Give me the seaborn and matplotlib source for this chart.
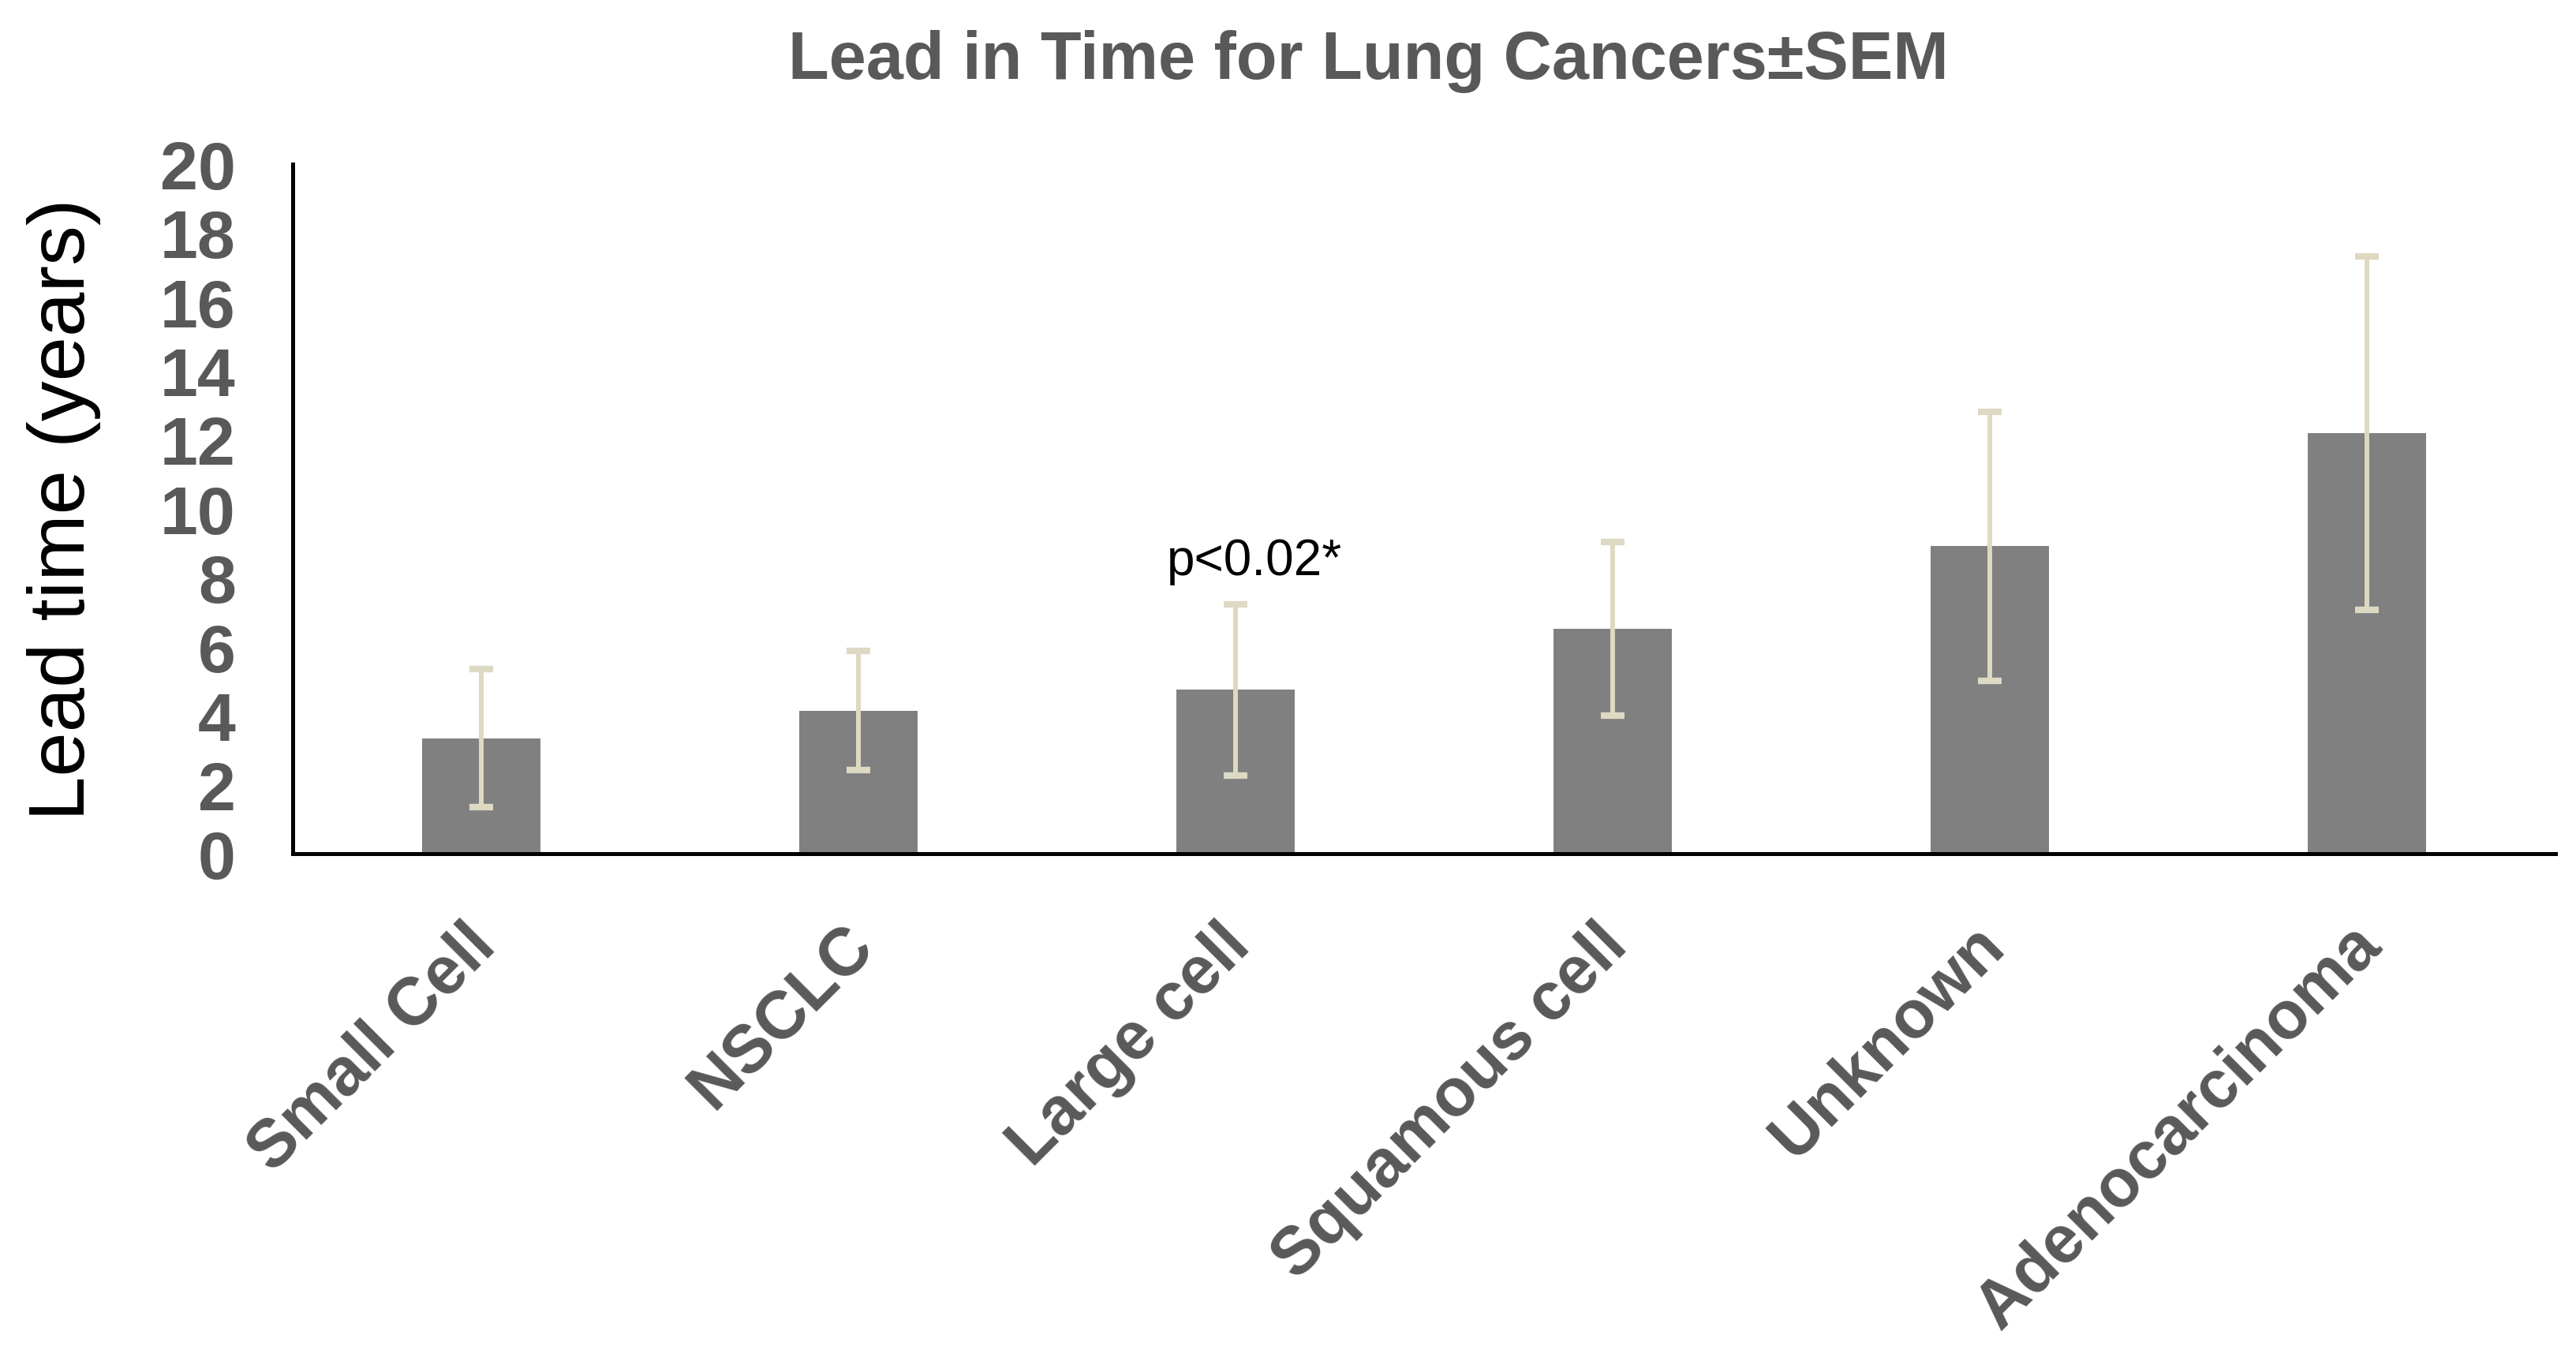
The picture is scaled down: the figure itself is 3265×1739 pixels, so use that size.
import matplotlib
matplotlib.use("Agg")
import matplotlib.pyplot as plt
from matplotlib.transforms import ScaledTranslation
import seaborn as sns

categories = ["Small Cell", "NSCLC", "Large cell", "Squamous cell", "Unknown", "Adenocarcinoma"]
means = [3.35, 4.15, 4.75, 6.52, 8.92, 12.2]
sem = [2.0, 1.73, 2.48, 2.52, 3.9, 5.12]
yticks = list(range(0, 21, 2))
title = "Lead in Time for Lung Cancers\u00b1SEM"
ylabel = "Lead time (years)"
annot_text = "p<0.02*"

sns.set_theme(style="white")
plt.rcParams["font.family"] = ["Liberation Sans", "DejaVu Sans"]

fig = plt.figure(figsize=(32.66, 17.40), dpi=100)
fig.patch.set_facecolor("white")
ax = fig.add_axes([0.1136, 0.3776, 0.878, 0.5024])

sns.barplot(x=categories, y=means, color="#808080", saturation=1, width=0.314,
            errorbar=None, ax=ax, edgecolor="none")
ax.errorbar(range(len(categories)), means, yerr=sem, fmt="none", ecolor="#DDD9C3",
            elinewidth=4.3, capsize=10.5, capthick=6, zorder=3)

ax.set_xlim(-0.5, 5.5)
ax.set_ylim(0, 20)
ax.set_yticks(yticks)
ax.set_yticklabels([str(t) for t in yticks], fontsize=62, fontweight="bold", color="#595959")
ax.tick_params(axis="y", length=0, pad=52)

ax.set_xticks(range(len(categories)))
ax.set_xticklabels(categories, rotation=45, ha="right", va="top", rotation_mode="anchor",
                   fontsize=61, fontweight="bold", color="#595959")
ax.tick_params(axis="x", length=0, pad=54)
for lbl in ax.get_xticklabels():
    lbl.set_transform(lbl.get_transform() + ScaledTranslation(-0.22, 0, fig.dpi_scale_trans))

ax.set_xlabel("")
ax.set_ylabel(ylabel, fontsize=73, color="black")
ax.yaxis.set_label_coords(-0.0847, 0.5)

for side in ["top", "right"]:
    ax.spines[side].set_visible(False)
for side in ["left", "bottom"]:
    ax.spines[side].set_color("black")
    ax.spines[side].set_linewidth(3.6)
ax.grid(False)

ax.text(2.05, 8.1, annot_text, ha="center", va="baseline", fontsize=46, color="black")

fig.text(0.531, 0.9425, title, ha="center", va="baseline", fontsize=61,
         fontweight="bold", color="#595959")

fig.savefig("out.png", dpi=100, facecolor="white")
